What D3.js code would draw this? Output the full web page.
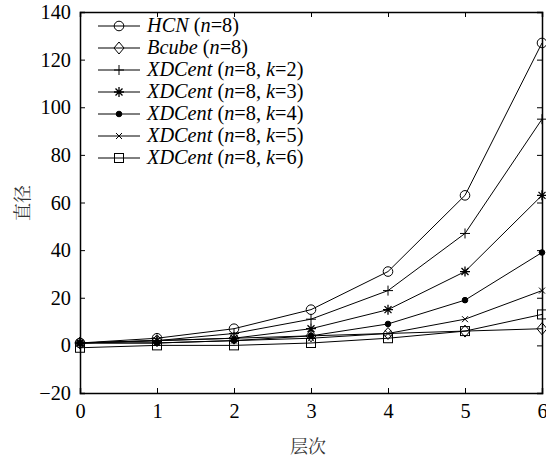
<!DOCTYPE html>
<html><head><meta charset="utf-8">
<script src="https://cdn.jsdelivr.net/npm/d3@7"></script>
<style>body{margin:0;background:#fff}svg{display:block}</style>
</head><body><svg id="c" width="546" height="459"></svg>
<script>
const levels = [0,1,2,3,4,5,6];
const hcn   = [1,3,7,15,31,63,127];
const bcube = [1,2,3,4,5,6,7];
const xk2   = [1,2,5,11,23,47,95];
const xk3   = [1,2,3,7,15,31,63];
const xk4   = [1,1,2,4,9,19,39];
const xk5   = [1,1,2,3,5,11,23];
const xk6   = [-1,0,0,1,3,6,13];
const xTicks = [0,1,2,3,4,5,6];
const yTicks = [-20,0,20,40,60,80,100,120,140];
const seriesDefs = [
  {name:"HCN", k:null, vals:hcn, m:"circle"},
  {name:"Bcube", k:null, vals:bcube, m:"diamond"},
  {name:"XDCent", k:2, vals:xk2, m:"plus"},
  {name:"XDCent", k:3, vals:xk3, m:"star"},
  {name:"XDCent", k:4, vals:xk4, m:"dot"},
  {name:"XDCent", k:5, vals:xk5, m:"x"},
  {name:"XDCent", k:6, vals:xk6, m:"square"}
];
const L=80,R=542,T=12,B=393;
const SERIF="Liberation Serif";
const FS="20.3px";
const svg=d3.select("#c");
const x=d3.scaleLinear().domain([0,6]).range([L,R]);
const y=d3.scaleLinear().domain([-20,140]).range([B,T]);
const g=svg.append("g");
const tk=5;
g.append("g").attr("transform",`translate(0,${B})`).call(d3.axisBottom(x).tickValues(xTicks).tickSize(-tk).tickPadding(11).tickFormat(d3.format("d")));
g.append("g").attr("transform",`translate(0,${T})`).call(d3.axisTop(x).tickValues(xTicks).tickSize(-tk).tickFormat(""));
g.append("g").attr("transform",`translate(${L},0)`).call(d3.axisLeft(y).tickValues(yTicks).tickSize(-tk).tickPadding(9).tickFormat(d=>d<0?"\u2212"+(-d):d));
g.append("g").attr("transform",`translate(${R},0)`).call(d3.axisRight(y).tickValues(yTicks).tickSize(-tk).tickFormat(""));
g.selectAll("g").attr("font-family",null);
g.selectAll(".domain").attr("stroke","#000").attr("stroke-width",1.5);
g.selectAll(".tick line").attr("stroke","#000").attr("stroke-width",1);
g.selectAll(".tick text").style("font-family",SERIF).style("font-size",FS).attr("fill","#000");
function marker(sel,type,cx,cy){
  const s=sel.append("g").attr("transform",`translate(${cx},${cy})`).attr("stroke","#000").attr("stroke-width",1).attr("fill","none");
  if(type==="circle") s.append("circle").attr("r",4.8);
  if(type==="diamond") s.append("path").attr("d","M0,-6L5,0L0,6L-5,0Z");
  if(type==="plus") s.append("path").attr("d","M-5,0H5M0,-5V5");
  if(type==="star") s.append("path").attr("d","M-5,0H5M0,-5V5M-3.5,-3.5L3.5,3.5M-3.5,3.5L3.5,-3.5").attr("stroke-width",1.3);
  if(type==="dot") s.append("circle").attr("r",2.8).attr("fill","#000");
  if(type==="x") s.append("path").attr("d","M-3,-3L3,3M-3,3L3,-3");
  if(type==="square") s.append("rect").attr("x",-4.5).attr("y",-4.5).attr("width",9).attr("height",9);
}
const line=d3.line().x((d,i)=>x(levels[i])).y(d=>y(d));
seriesDefs.forEach(s=>{
  svg.append("path").datum(s.vals).attr("d",line).attr("fill","none").attr("stroke","#000").attr("stroke-width",1);
  s.vals.forEach((v,i)=>marker(svg,s.m,x(levels[i]),y(v)));
});
const lg=svg.append("g");
seriesDefs.forEach((s,i)=>{
  const ly=30+i*22;
  lg.append("line").attr("x1",98).attr("x2",140).attr("y1",ly-4).attr("y2",ly-4).attr("stroke","#000");
  marker(lg,s.m,119,ly-4);
  const t=lg.append("text").attr("x",147).attr("y",ly+2).style("font-family",SERIF).style("font-size",FS).attr("fill","#000");
  t.append("tspan").style("font-style","italic").text(s.name);
  t.append("tspan").text(" (");
  t.append("tspan").style("font-style","italic").text("n");
  t.append("tspan").text("=8");
  if(s.k!==null){
    t.append("tspan").text(", ");
    t.append("tspan").style("font-style","italic").text("k");
    t.append("tspan").text("="+s.k);
  }
  t.append("tspan").text(")");
});
const CJK="Noto Serif CJK SC";
svg.append("text").attr("x",308).attr("y",453).attr("text-anchor","middle").style("font-family",CJK).style("font-size","18px").attr("fill","#333").text("层次");
svg.append("text").attr("transform","translate(29,203) rotate(-90)").attr("text-anchor","middle").style("font-family",CJK).style("font-size","18px").attr("fill","#333").text("直径");
</script></body></html>
